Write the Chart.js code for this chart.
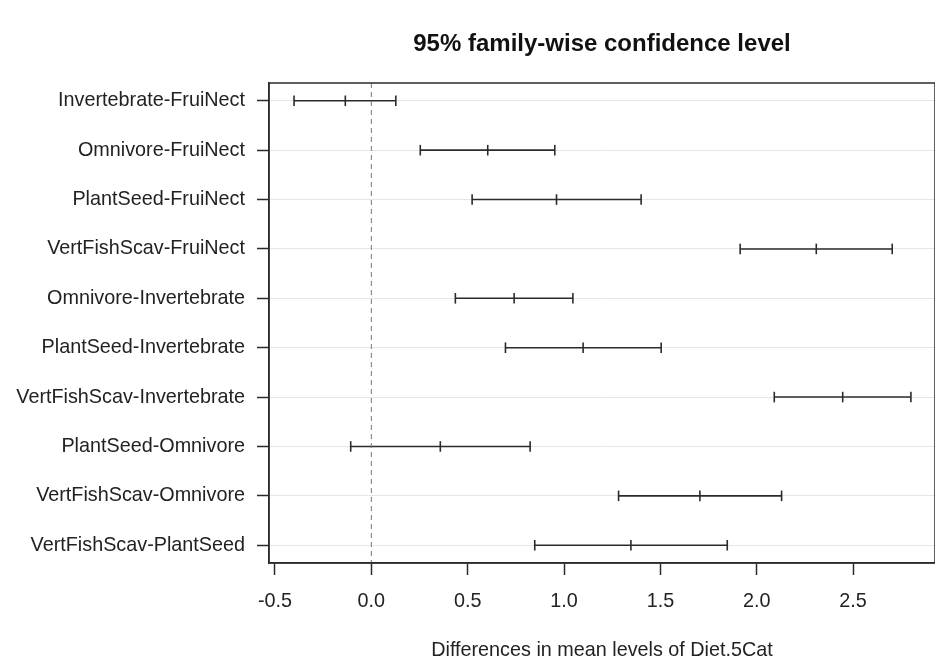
<!DOCTYPE html>
<html lang="en">
<head>
  <meta charset="UTF-8">
  <title>95% family-wise confidence level</title>
  <script src="https://cdn.jsdelivr.net/npm/chart.js"></script>
  <style>
    * { margin: 0; padding: 0; box-sizing: border-box; }
    body { background: #fff; }
    #wrap { width: 935px; height: 671px; }
  </style>
</head>
<body>
  <div id="wrap"><canvas id="tukeyChart" width="935" height="671"></canvas></div>

  <script>
    // Tukey HSD comparisons, top to bottom
    const pairs = [
      'Invertebrate-FruiNect',
      'Omnivore-FruiNect',
      'PlantSeed-FruiNect',
      'VertFishScav-FruiNect',
      'Omnivore-Invertebrate',
      'PlantSeed-Invertebrate',
      'VertFishScav-Invertebrate',
      'PlantSeed-Omnivore',
      'VertFishScav-Omnivore',
      'VertFishScav-PlantSeed'
    ];
    const diff = [-0.135, 0.604, 0.961, 2.309, 0.741, 1.099, 2.446, 0.358, 1.705, 1.347];
    const lwr  = [-0.401, 0.254, 0.523, 1.914, 0.436, 0.696, 2.091, -0.107, 1.283, 0.848];
    const upr  = [0.127, 0.952, 1.400, 2.703, 1.046, 1.504, 2.800, 0.824, 2.129, 1.847];
    const xTicks = [-0.5, 0.0, 0.5, 1.0, 1.5, 2.0, 2.5];
    const xMin = -0.531, xMax = 2.925;
    const yMin = 0.64, yMax = pairs.length + 0.36;

    const FONT = '"Liberation Sans", Arial, sans-serif';
    const ink = '#2b2b2b';

    // box round the plot, like R's box()
    const boxPlugin = {
      id: 'box',
      afterDraw(chart) {
        const { ctx, chartArea: a } = chart;
        ctx.save();
        ctx.strokeStyle = ink;
        ctx.lineWidth = 1.5;
        ctx.strokeRect(a.left, a.top, a.right - a.left, a.bottom - a.top);
        ctx.restore();
      }
    };

    // one dataset per interval line
    const intervalSets = pairs.map((p, i) => ({
      type: 'scatter',
      data: [{ x: lwr[i], y: i + 1 }, { x: upr[i], y: i + 1 }],
      showLine: true,
      borderColor: ink,
      borderWidth: 1.6,
      pointStyle: 'line',
      rotation: 90,
      pointRadius: 5.3,
      pointBorderWidth: 1.6,
      pointBorderColor: ink
    }));

    const midSet = {
      type: 'scatter',
      data: diff.map((d, i) => ({ x: d, y: i + 1 })),
      showLine: false,
      pointStyle: 'line',
      rotation: 90,
      pointRadius: 5.3,
      pointBorderWidth: 1.6,
      pointBorderColor: ink
    };

    const zeroSet = {
      type: 'scatter',
      data: [{ x: 0, y: yMin }, { x: 0, y: yMax }],
      showLine: true,
      borderColor: '#777',
      borderWidth: 1,
      borderDash: [5, 4],
      pointRadius: 0
    };

    new Chart(document.getElementById('tukeyChart'), {
      type: 'scatter',
      data: { datasets: [zeroSet, ...intervalSets, midSet] },
      options: {
        responsive: false,
        devicePixelRatio: 1,
        animation: false,
        layout: { padding: 0, autoPadding: false },
        plugins: {
          legend: { display: false },
          tooltip: { enabled: false },
          title: {
            display: true,
            fullSize: false,
            text: '95% family-wise confidence level',
            color: '#111',
            font: { family: FONT, size: 24, weight: 'bold' },
            padding: { top: 30, bottom: 24.2 }
          }
        },
        scales: {
          x: {
            type: 'linear',
            min: xMin,
            max: xMax,
            afterBuildTicks: s => { s.ticks = xTicks.map(v => ({ value: v })); },
            afterFit: s => { s.height = 108; },
            grid: { drawOnChartArea: false, tickLength: 12, tickColor: ink, tickWidth: 1.5 },
            border: { display: true, color: ink, width: 1.5 },
            ticks: {
              color: '#222',
              font: { family: FONT, size: 19.8 },
              padding: 15,
              maxRotation: 0,
              callback: v => v.toFixed(1)
            },
            title: {
              display: true,
              text: 'Differences in mean levels of Diet.5Cat',
              color: '#222',
              font: { family: FONT, size: 19.8 },
              padding: { top: 0, bottom: 9 }
            }
          },
          y: {
            type: 'linear',
            reverse: true,
            min: yMin,
            max: yMax,
            afterBuildTicks: s => { s.ticks = pairs.map((p, i) => ({ value: i + 1 })); },
            afterFit: s => { s.width = 269; },
            grid: { color: '#e6e6e6', lineWidth: 1, tickLength: 12, tickColor: ink, tickWidth: 1.5 },
            border: { display: true, color: ink, width: 1.5 },
            ticks: {
              color: '#222',
              font: { family: FONT, size: 19.8 },
              padding: 12,
              callback: (v, i) => pairs[i]
            }
          }
        }
      },
      plugins: [boxPlugin]
    });
  </script>
</body>
</html>
